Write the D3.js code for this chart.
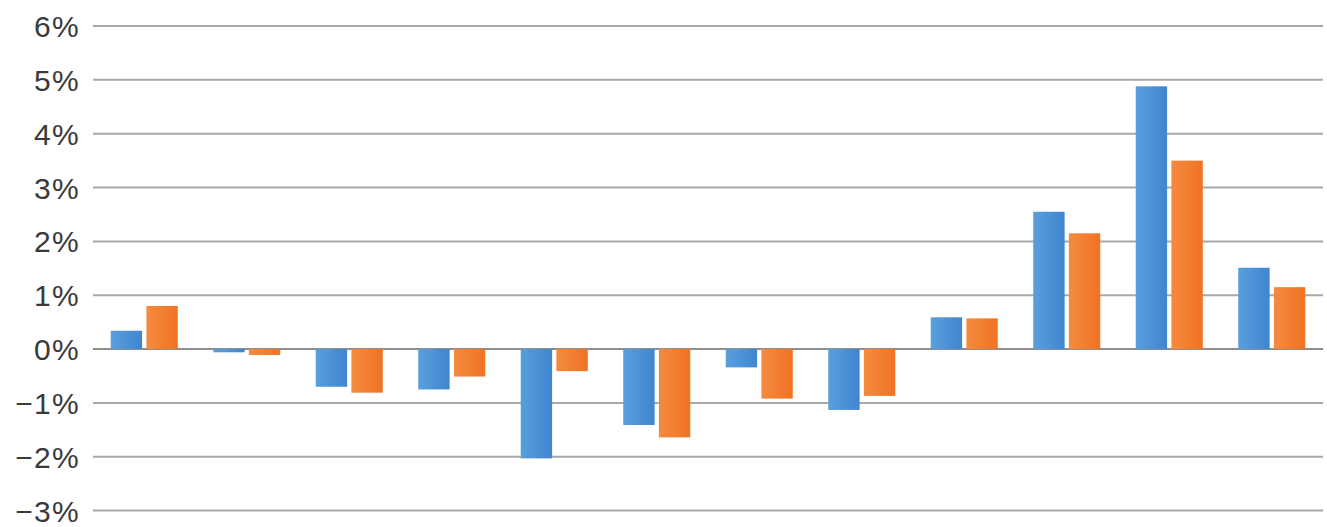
<!DOCTYPE html>
<html><head><meta charset="utf-8">
<script src="https://cdn.jsdelivr.net/npm/d3@7"></script>
<style>html,body{margin:0;padding:0;background:#fff;}svg{display:block;}</style>
</head><body>
<svg id="chart" width="1327" height="527"></svg>
<script>
const categories = ["1","2","3","4","5","6","7","8","9","10","11","12"];
const seriesA = [0.34, -0.06, -0.70, -0.75, -2.03, -1.41, -0.34, -1.13, 0.59, 2.55, 4.88, 1.51];
const seriesB = [0.80, -0.11, -0.81, -0.51, -0.41, -1.64, -0.92, -0.87, 0.57, 2.15, 3.50, 1.15];
const tickValues = [-3, -2, -1, 0, 1, 2, 3, 4, 5, 6];
const seriesNames = ["A", "B"];

const svg = d3.select("#chart");
const plotLeft = 93, plotRight = 1323, plotTop = 26, plotBottom = 510.6;

const y = d3.scaleLinear().domain([-3, 6]).range([plotBottom, plotTop]);
const x0 = d3.scaleBand().domain(categories).range([plotLeft, plotRight]).paddingInner(0.346).paddingOuter(0.173);
const x1 = d3.scaleBand().domain(seriesNames).range([0, x0.bandwidth()]).paddingInner(0.12);

const defs = svg.append("defs");
const gA = defs.append("linearGradient").attr("id","gA").attr("x1",0).attr("y1",0).attr("x2",1).attr("y2",0);
gA.append("stop").attr("offset","0%").attr("stop-color","#5a9fdc");
gA.append("stop").attr("offset","100%").attr("stop-color","#3f85d0");
const gB = defs.append("linearGradient").attr("id","gB").attr("x1",0).attr("y1",0).attr("x2",1).attr("y2",0);
gB.append("stop").attr("offset","0%").attr("stop-color","#f58b40");
gB.append("stop").attr("offset","100%").attr("stop-color","#ef7322");

// gridlines
svg.append("g").selectAll("line").data(tickValues).join("line")
  .attr("x1", plotLeft).attr("x2", plotRight)
  .attr("y1", d => y(d)).attr("y2", d => y(d))
  .attr("stroke", d => d === 0 ? "#8f8f8f" : "#a8a8a8")
  .attr("stroke-width", 2);

// axis labels
const yAxis = d3.axisLeft(y).tickValues(tickValues).tickSize(0).tickPadding(0)
  .tickFormat(d => (d < 0 ? "\u2212" + Math.abs(d) : d) + "%");
const ax = svg.append("g").attr("transform", "translate(80,0)").call(yAxis);
ax.select(".domain").remove();
ax.selectAll("text").attr("font-family", "Liberation Sans, Arial, sans-serif")
  .attr("font-size", 30).attr("letter-spacing", "1.3px").attr("fill", "#3a3a3a").attr("dy", "0.35em");

// bars
const data = categories.map((c, i) => ({c, vals: [{s:"A", v: seriesA[i]}, {s:"B", v: seriesB[i]}]}));
const grp = svg.append("g").selectAll("g").data(data).join("g")
  .attr("transform", d => `translate(${x0(d.c)},0)`);
grp.selectAll("rect").data(d => d.vals).join("rect")
  .attr("x", d => x1(d.s))
  .attr("width", x1.bandwidth())
  .attr("y", d => y(Math.max(0, d.v)))
  .attr("height", d => Math.abs(y(d.v) - y(0)))
  .attr("fill", d => d.s === "A" ? "url(#gA)" : "url(#gB)");
</script>
</body></html>
